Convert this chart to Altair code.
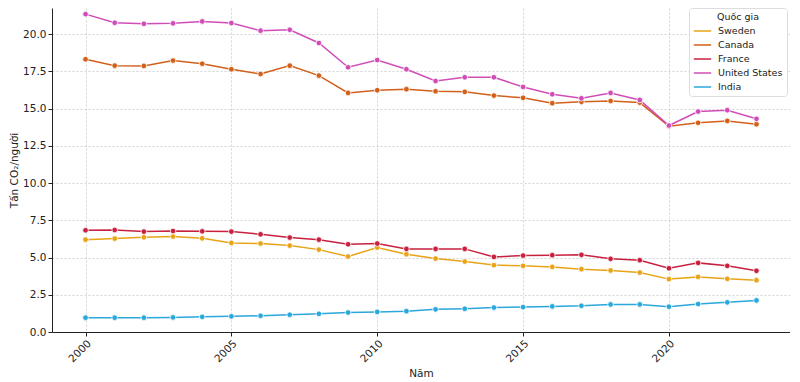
import altair as alt
import pandas as pd

years = list(range(2000, 2024))
countries = ["Sweden", "Canada", "France", "United States", "India"]
colors = ["#E8A317", "#D2601A", "#C8203F", "#D04DB8", "#2AA7DC"]

sweden = [6.20, 6.27, 6.36, 6.41, 6.29, 5.98, 5.94, 5.80, 5.53, 5.07, 5.67, 5.22,
          4.93, 4.73, 4.49, 4.44, 4.37, 4.22, 4.13, 3.99, 3.55, 3.70, 3.57, 3.48]
canada = [18.31, 17.88, 17.86, 18.22, 18.01, 17.64, 17.32, 17.88, 17.21, 16.05, 16.23, 16.30,
          16.16, 16.12, 15.87, 15.72, 15.36, 15.45, 15.51, 15.40, 13.82, 14.04, 14.17, 13.95]
france = [6.83, 6.85, 6.74, 6.78, 6.76, 6.74, 6.56, 6.34, 6.20, 5.89, 5.94, 5.58,
          5.58, 5.58, 5.04, 5.13, 5.16, 5.18, 4.91, 4.82, 4.28, 4.64, 4.44, 4.11]
usa = [21.34, 20.76, 20.69, 20.72, 20.85, 20.74, 20.23, 20.29, 19.40, 17.77, 18.26, 17.64,
       16.85, 17.10, 17.10, 16.45, 15.96, 15.69, 16.05, 15.58, 13.86, 14.80, 14.89, 14.31]
india = [0.96, 0.96, 0.96, 0.98, 1.02, 1.05, 1.09, 1.16, 1.22, 1.31, 1.35, 1.40,
         1.52, 1.56, 1.64, 1.67, 1.72, 1.76, 1.85, 1.85, 1.70, 1.88, 1.99, 2.12]

series = [sweden, canada, france, usa, india]
rows = []
for c, vals in zip(countries, series):
    for y, v in zip(years, vals):
        rows.append({"Năm": y, "Giá trị": v, "Quốc gia": c})
df = pd.DataFrame(rows)

font = "DejaVu Sans"
xscale = alt.Scale(domain=[1998.85, 2024.15], nice=False, zero=False)
yscale = alt.Scale(domain=[0, 21.75], nice=False)
color_scale = alt.Scale(domain=countries, range=colors)

x_enc = alt.X("Năm:Q", scale=xscale,
              axis=alt.Axis(values=[2000, 2005, 2010, 2015, 2020], format="d",
                            labelAngle=-45, title="Năm", titlePadding=4))
y_enc = alt.Y("Giá trị:Q", scale=yscale,
              axis=alt.Axis(values=[0, 2.5, 5, 7.5, 10, 12.5, 15, 17.5, 20], format=".1f",
                            title="Tấn CO₂/người", titlePadding=3))

base = alt.Chart(df)
lines = base.mark_line(strokeWidth=1.5).encode(
    x=x_enc, y=y_enc,
    color=alt.Color("Quốc gia:N", scale=color_scale, sort=countries,
                    legend=alt.Legend(title="Quốc gia", orient="none", legendX=637, legendY=0,
                                      symbolType="stroke", symbolSize=300, symbolStrokeWidth=1.5,
                                      fillColor="white", strokeColor="#dddddd", padding=4,
                                      cornerRadius=3, titleAnchor="middle", titleFontWeight="normal",
                                      titleFontSize=9.5, labelFontSize=9.5, titleFont=font,
                                      labelFont=font, rowPadding=-3, titlePadding=0,
                                      labelOffset=6,
                                      labelColor="#222", titleColor="#222")),
    detail="Quốc gia:N",
)
points = base.mark_point(filled=True, size=32, stroke="white", strokeWidth=0.8, opacity=1).encode(
    x=x_enc, y=y_enc,
    fill=alt.Fill("Quốc gia:N", scale=color_scale, legend=None),
)

chart = alt.layer(lines, points).properties(
    width=738, height=324,
    autosize=alt.AutoSizeParams(type="none"),
    padding={"left": 44, "top": 0, "right": 0, "bottom": 48},
).configure_axis(
    labelFont=font, titleFont=font, labelFontSize=10.5, titleFontSize=10.5,
    titleFontWeight="normal", labelColor="#222", titleColor="#222",
    grid=True, gridColor="#c8c8c8", gridDash=[2, 2], gridWidth=0.8,
    domainColor="#222", tickColor="#222", tickSize=4, domainWidth=1,
).configure_axisY(domain=True).configure_view(stroke=None)

chart.save("out.html", embed_options={"renderer": "svg", "actions": False})
